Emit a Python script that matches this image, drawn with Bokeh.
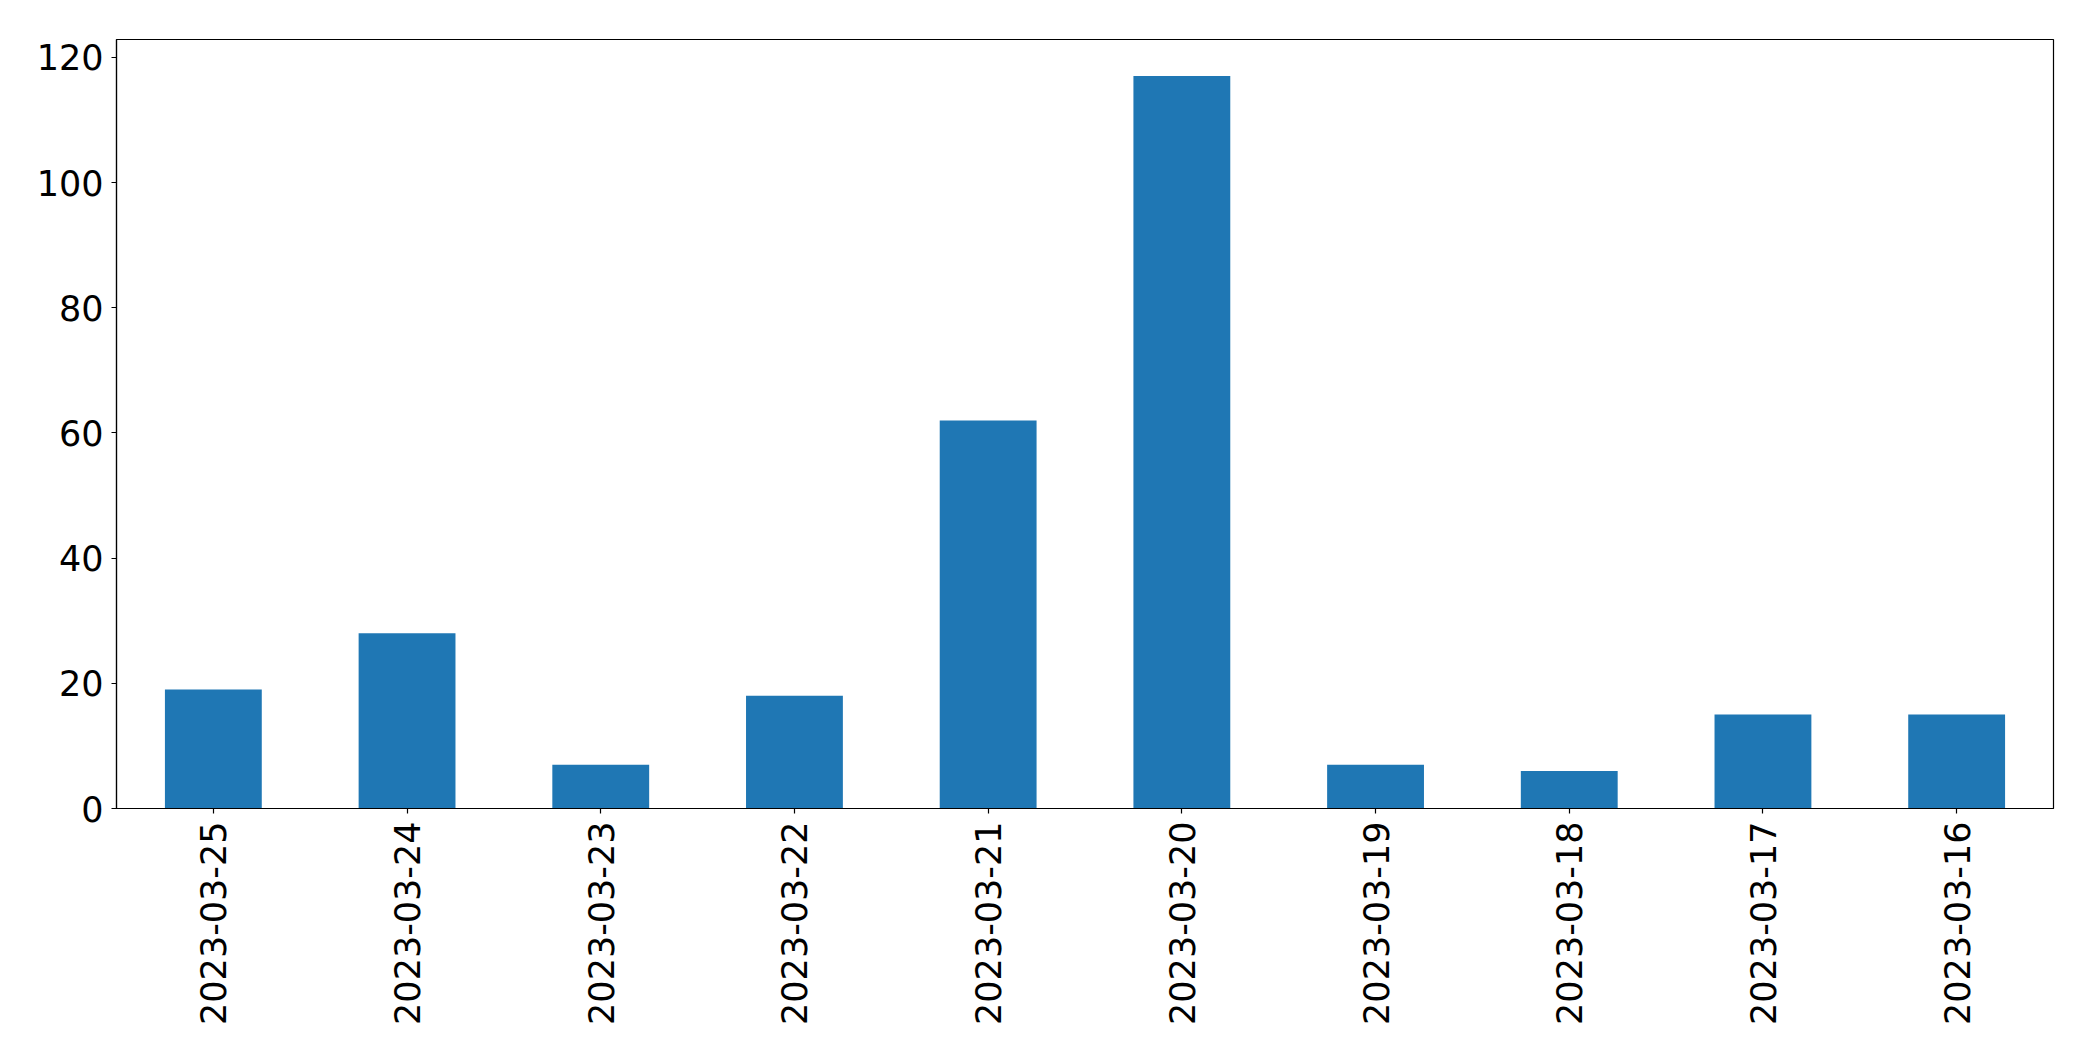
import math
from bokeh.plotting import figure
from bokeh.models import FactorRange, Range1d, FixedTicker
from bokeh.embed import file_html
from bokeh.resources import INLINE

dates = ["2023-03-25", "2023-03-24", "2023-03-23", "2023-03-22", "2023-03-21",
         "2023-03-20", "2023-03-19", "2023-03-18", "2023-03-17", "2023-03-16"]
counts = [19, 28, 7, 18, 62, 117, 7, 6, 15, 15]
y_ticks = [0, 20, 40, 60, 80, 100, 120]

p = figure(width=2077, height=1045, x_range=FactorRange(*dates, range_padding=0),
           y_range=Range1d(0, max(counts) * 1.05),
           output_backend="svg", toolbar_location=None,
           min_border_left=116, min_border_right=24, min_border_top=39, min_border_bottom=237)

p.vbar(x=dates, top=counts, width=0.5, color="#1f77b4", line_color=None)

p.xgrid.visible = False
p.ygrid.visible = False
p.outline_line_color = "black"
p.outline_line_width = 1.2
p.background_fill_color = "white"
p.border_fill_color = "white"

p.yaxis.ticker = FixedTicker(ticks=y_ticks)
for ax in (p.xaxis[0], p.yaxis[0]):
    ax.major_label_text_font = "DejaVu Sans"
    ax.major_label_text_font_size = "35px"
    ax.major_label_text_color = "black"
    ax.axis_line_color = "black"
    ax.axis_line_width = 1.2
    ax.major_tick_line_color = "black"
    ax.major_tick_line_width = 1.2
    ax.major_tick_out = 5
    ax.major_tick_in = 0
    ax.minor_tick_line_color = None
    ax.major_label_standoff = 8
p.xaxis.major_label_orientation = math.pi / 2

open("out.html", "w").write(file_html(p, INLINE))
